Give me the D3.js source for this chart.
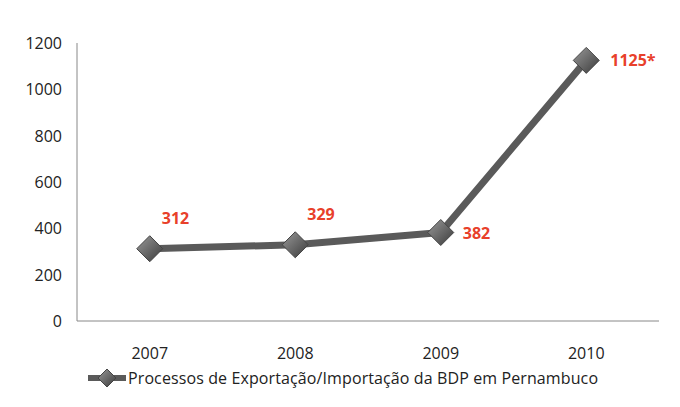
<!DOCTYPE html><html><head><meta charset="utf-8"><script src="https://cdn.jsdelivr.net/npm/d3@7"></script>
<style>body{margin:0;background:#fff}</style></head><body><svg id="c" width="680" height="407"></svg>
<script>
const years=["2007","2008","2009","2010"];
const values=[312,329,382,1125];
const labels=["312","329","382","1125*"];
const yTicks=[0,200,400,600,800,1000,1200];
const svg=d3.select("#c"),font="Open Sans, sans-serif";
const x=d3.scaleBand().domain(years).range([77,659]);
const y=d3.scaleLinear().domain([0,1200]).range([321,43]);
const cx=d=>x(d)+x.bandwidth()/2;
const defs=svg.append("defs");
const g=defs.append("linearGradient").attr("id","gr").attr("x1",0).attr("y1",0).attr("x2",1).attr("y2",1);
g.append("stop").attr("offset","0").attr("stop-color","#9a9a9a");
g.append("stop").attr("offset","1").attr("stop-color","#3a3a3a");
svg.append("line").attr("x1",77).attr("x2",77).attr("y1",43).attr("y2",321).attr("stroke","#888");
svg.append("line").attr("x1",77).attr("x2",659).attr("y1",321).attr("y2",321).attr("stroke","#888");
svg.selectAll(".yt").data(yTicks).join("text").attr("x",62).attr("y",d=>y(d)+6).attr("text-anchor","end")
 .attr("font-family",font).attr("font-size",16).attr("fill","#222").text(d=>d);
svg.selectAll(".xt").data(years).join("text").attr("x",cx).attr("y",359).attr("text-anchor","middle")
 .attr("font-family",font).attr("font-size",16).attr("fill","#222").text(d=>d);
svg.append("path").datum(values).attr("fill","none").attr("stroke","#5a5a5a").attr("stroke-width",7).attr("stroke-linejoin","round")
 .attr("d",d3.line().x((d,i)=>cx(years[i])).y(d=>y(d)));
const dia=(px,py,r)=>`M${px},${py-r}L${px+r},${py}L${px},${py+r}L${px-r},${py}Z`;
svg.selectAll(".m").data(values).join("path").attr("d",(d,i)=>dia(cx(years[i]),y(d),13))
 .attr("fill","url(#gr)").attr("stroke","#444").attr("stroke-width",1);
const off=[[12,-25],[12,-25],[22,6],[24,6]];
svg.selectAll(".l").data(values).join("text").attr("x",(d,i)=>cx(years[i])+off[i][0]).attr("y",(d,i)=>y(d)+off[i][1])
 .attr("font-family",font).attr("font-size",16).attr("font-weight","bold").attr("fill","#e8402a").text((d,i)=>labels[i]);
svg.append("line").attr("x1",88).attr("x2",126).attr("y1",378).attr("y2",378).attr("stroke","#5a5a5a").attr("stroke-width",6);
svg.append("path").attr("d",dia(107,378,9)).attr("fill","url(#gr)").attr("stroke","#444");
svg.append("text").attr("x",128).attr("y",384).attr("font-family",font).attr("font-size",16).attr("fill","#222")
 .attr("textLength",470).text("Processos de Exportação/Importação da BDP em Pernambuco");
</script></body></html>
